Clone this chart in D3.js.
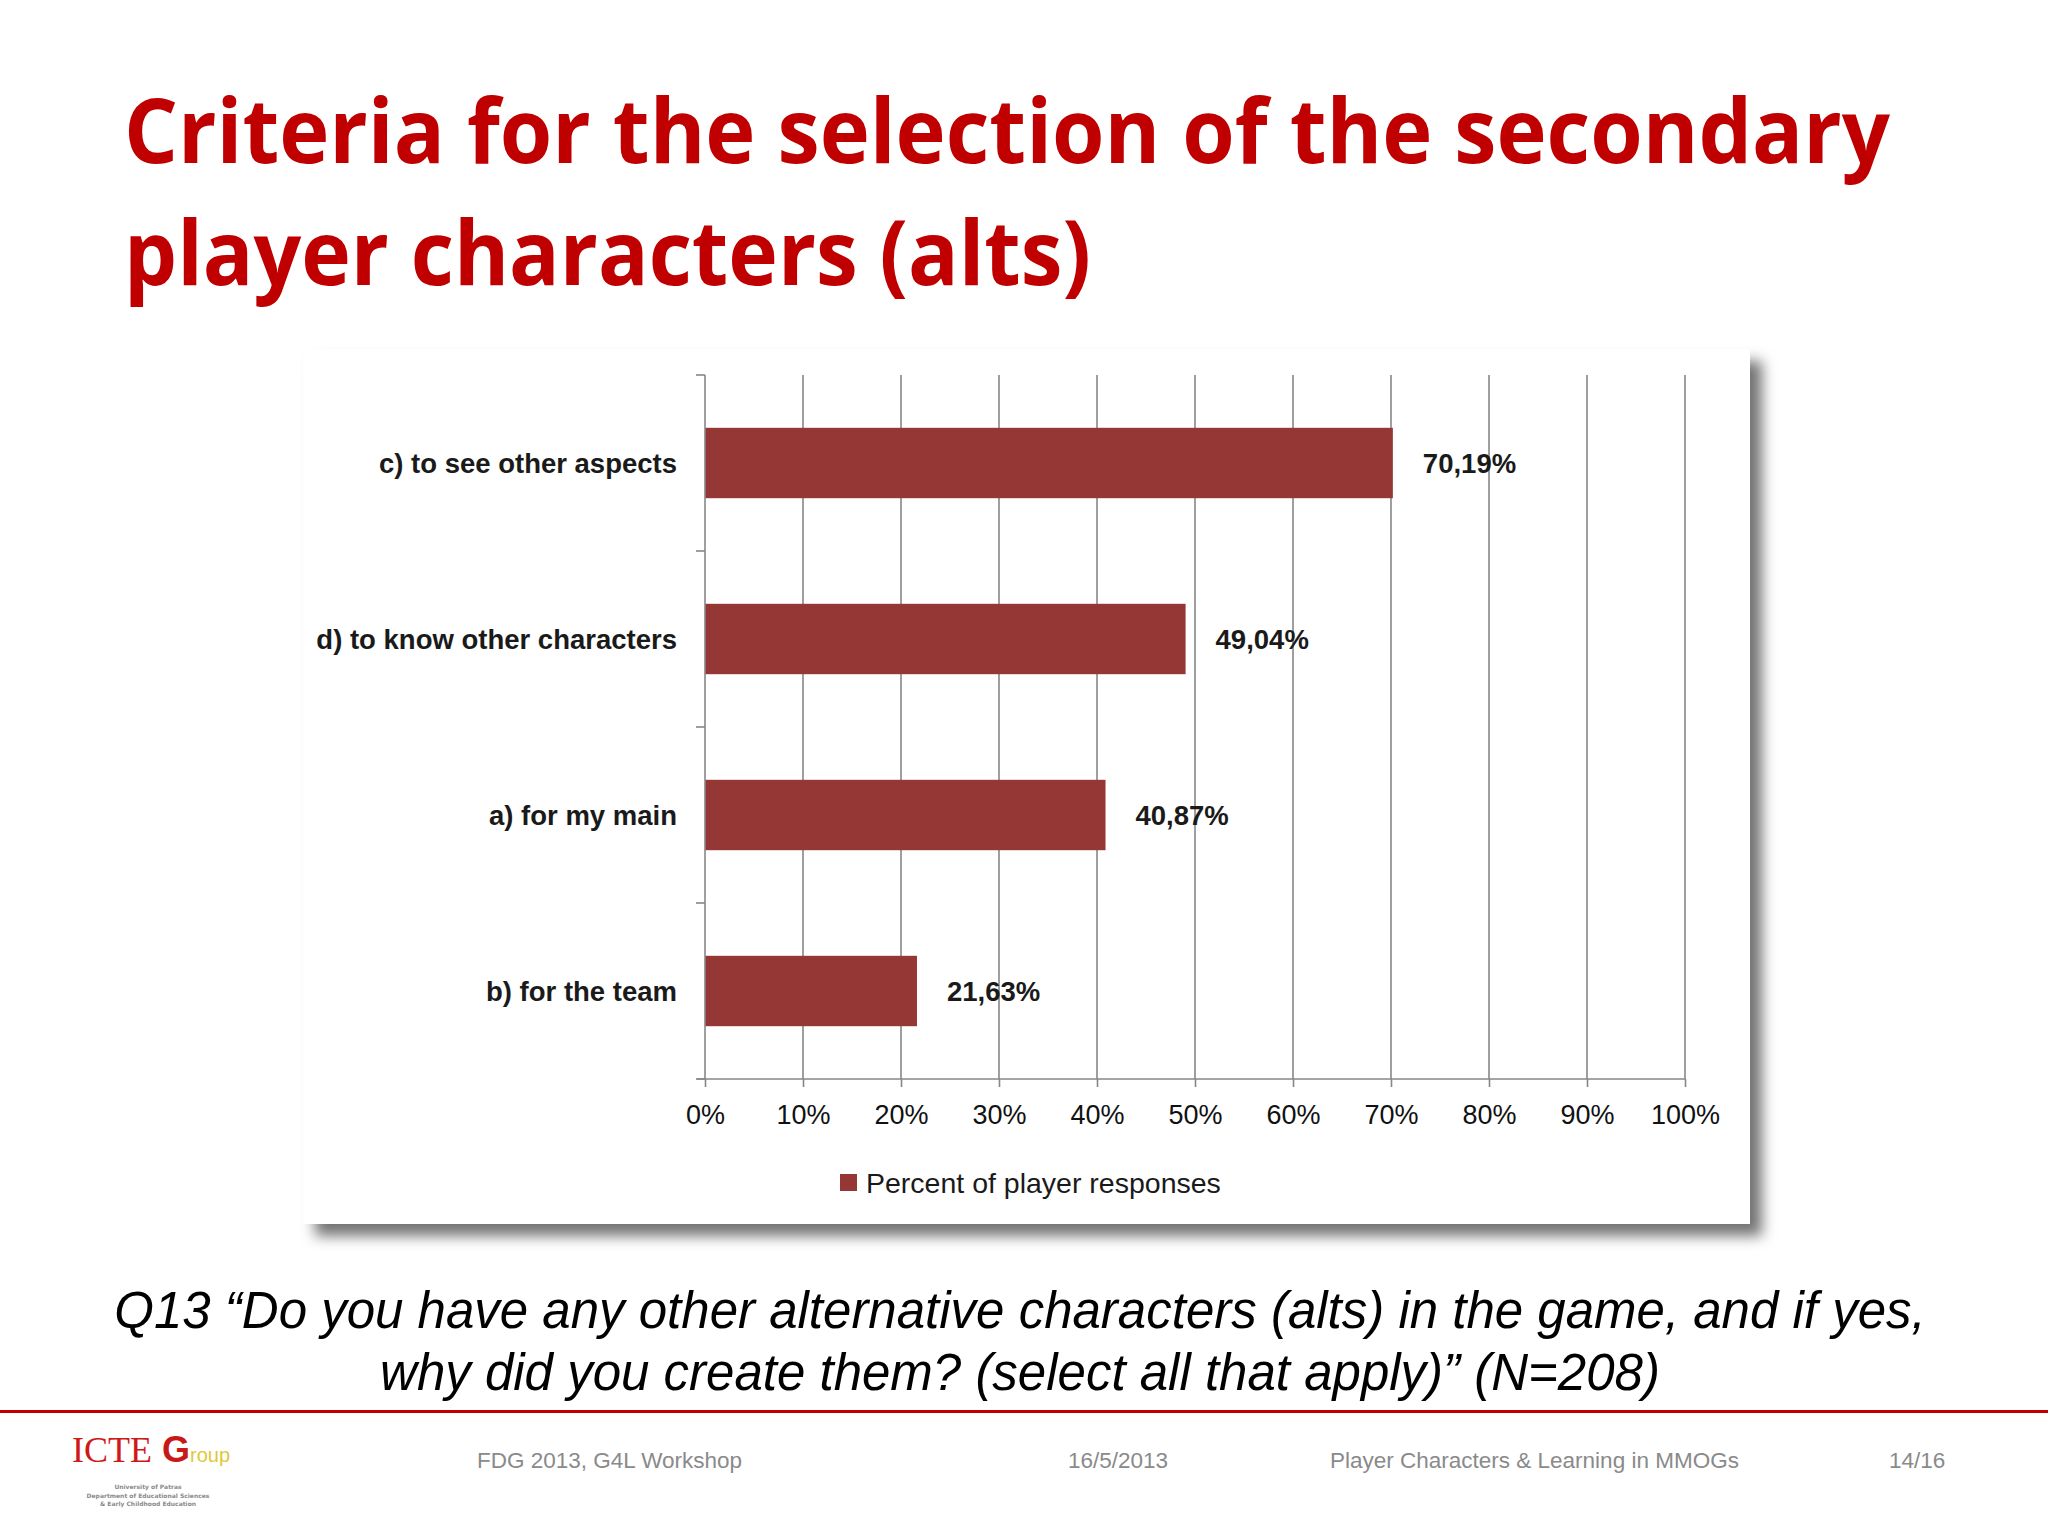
<!DOCTYPE html>
<html>
<head>
<meta charset="utf-8">
<script src="https://cdn.jsdelivr.net/npm/d3@7"></script>
<style>
html,body{margin:0;padding:0;background:#fff;}
svg{display:block;}
</style>
</head>
<body>
<script>
// ---- data ----
const categories = ["c) to see other aspects", "d) to know other characters", "a) for my main", "b) for the team"];
const values = [0.7019, 0.4904, 0.4087, 0.2163];
const valueLabels = ["70,19%", "49,04%", "40,87%", "21,63%"];
const xTicks = [0, 0.1, 0.2, 0.3, 0.4, 0.5, 0.6, 0.7, 0.8, 0.9, 1.0];
const seriesName = "Percent of player responses";
const titleLines = ["Criteria for the selection of the secondary", "player characters (alts)"];
const captionLines = ["Q13 \u201cDo you have any other alternative characters (alts) in the game, and if yes,", "why did you create them? (select all that apply)\u201d (N=208)"];
const footerTexts = ["FDG 2013, G4L Workshop", "16/5/2013", "Player Characters & Learning in MMOGs", "14/16"];
const logoLines = ["University of Patras", "Department of Educational Sciences", "& Early Childhood Education"];

const W = 2048, H = 1536;
const svg = d3.select("body").append("svg").attr("width", W).attr("height", H);
const defs = svg.append("defs");
const f = defs.append("filter").attr("id", "shadow").attr("x", "-5%").attr("y", "-5%").attr("width", "115%").attr("height", "120%");
f.append("feDropShadow").attr("dx", 12).attr("dy", 12).attr("stdDeviation", 7).attr("flood-color", "#000").attr("flood-opacity", 0.55);

svg.append("rect").attr("width", W).attr("height", H).attr("fill", "#fff");

// title
const titleFont = "Open Sans, Liberation Sans, sans-serif";
svg.append("text").attr("x", 124).attr("y", 163).attr("font-family", titleFont).attr("font-weight", 700)
  .attr("font-size", 90).attr("fill", "#C00000").attr("textLength", 1766).attr("lengthAdjust", "spacingAndGlyphs")
  .text(titleLines[0]);
svg.append("text").attr("x", 124).attr("y", 285).attr("font-family", titleFont).attr("font-weight", 700)
  .attr("font-size", 90).attr("fill", "#C00000").attr("textLength", 967).attr("lengthAdjust", "spacingAndGlyphs")
  .text(titleLines[1]);

// chart panel
svg.append("rect").attr("x", 303).attr("y", 349).attr("width", 1447).attr("height", 875)
  .attr("fill", "#fff").attr("filter", "url(#shadow)");

const chartFont = "Liberation Sans, sans-serif";
const x = d3.scaleLinear().domain([0, 1]).range([705, 1685]);
const y = d3.scaleBand().domain(categories).range([375, 1079]).paddingInner(0.6).paddingOuter(0.3);

const g = svg.append("g");
// gridlines
g.selectAll("line.grid").data(xTicks.slice(1)).join("line")
  .attr("x1", d => x(d)).attr("x2", d => x(d)).attr("y1", 375).attr("y2", 1079)
  .attr("stroke", "#878787").attr("stroke-width", 1.6);

// bars
g.selectAll("rect.bar").data(values).join("rect")
  .attr("x", x(0)).attr("y", (d, i) => y(categories[i]))
  .attr("width", d => x(d) - x(0)).attr("height", y.bandwidth())
  .attr("fill", "#953735");

// bottom axis
const xAxis = d3.axisBottom(x).tickValues(xTicks).tickFormat(d3.format(".0%")).tickSize(8).tickPadding(18);
const ax = g.append("g").attr("transform", "translate(0,1079)").call(xAxis);
ax.select(".domain").attr("stroke", "#878787").attr("stroke-width", 1.6).attr("d", "M697,0H" + x(1));
ax.selectAll(".tick line").attr("stroke", "#878787").attr("stroke-width", 1.6);
ax.selectAll(".tick text").attr("font-family", chartFont).attr("font-size", 27).attr("fill", "#111");

// left axis line & category tick marks (between categories)
g.append("line").attr("x1", x(0)).attr("x2", x(0)).attr("y1", 375).attr("y2", 1079)
  .attr("stroke", "#878787").attr("stroke-width", 1.6);
const step = y.step();
const catTicks = d3.range(categories.length + 1).map(i => 375 + i * step);
g.selectAll("line.ctick").data(catTicks).join("line")
  .attr("x1", x(0) - 9).attr("x2", x(0)).attr("y1", d => d).attr("y2", d => d)
  .attr("stroke", "#878787").attr("stroke-width", 1.6);

// category labels
g.selectAll("text.cat").data(categories).join("text")
  .attr("x", x(0) - 28).attr("y", d => y(d) + y.bandwidth() / 2)
  .attr("dy", "0.35em").attr("text-anchor", "end")
  .attr("font-family", chartFont).attr("font-size", 27.5).attr("font-weight", 700).attr("fill", "#1a1a1a")
  .text(d => d);

// value labels
g.selectAll("text.val").data(values).join("text")
  .attr("x", d => x(d) + 30).attr("y", (d, i) => y(categories[i]) + y.bandwidth() / 2)
  .attr("dy", "0.35em")
  .attr("font-family", chartFont).attr("font-size", 27.5).attr("font-weight", 700).attr("fill", "#1a1a1a")
  .text((d, i) => valueLabels[i]);

// legend
svg.append("rect").attr("x", 840).attr("y", 1174).attr("width", 17).attr("height", 17).attr("fill", "#953735");
svg.append("text").attr("x", 866).attr("y", 1183).attr("dy", "0.35em")
  .attr("font-family", chartFont).attr("font-size", 28.5).attr("fill", "#1a1a1a").text(seriesName);

// caption
const capFont = "Liberation Sans, Arial, sans-serif";
svg.append("text").attr("x", 1020).attr("y", 1328).attr("text-anchor", "middle").attr("font-family", capFont)
  .attr("font-style", "italic").attr("font-size", 51).attr("fill", "#000").text(captionLines[0]);
svg.append("text").attr("x", 1020).attr("y", 1390).attr("text-anchor", "middle").attr("font-family", capFont)
  .attr("font-style", "italic").attr("font-size", 51).attr("fill", "#000").text(captionLines[1]);

// red separator line
svg.append("rect").attr("x", 0).attr("y", 1410).attr("width", W).attr("height", 3).attr("fill", "#C00000");

// footer
const footX = [477, 1068, 1330, 1889];
footerTexts.forEach((t, i) => {
  svg.append("text").attr("x", footX[i]).attr("y", 1460).attr("dy", "0.35em")
    .attr("font-family", chartFont).attr("font-size", 22.5).attr("fill", "#8a8a8a").text(t);
});

// logo (approximation) - a single text element with coloured parts
const logoText = svg.append("text").attr("x", 72).attr("y", 1462);
logoText.append("tspan").attr("font-family", "Liberation Serif, serif").attr("font-size", 36).attr("fill", "#d01818").text("ICTE");
logoText.append("tspan").attr("font-family", "Liberation Sans, sans-serif").attr("font-weight", 700)
  .attr("font-size", 36).attr("fill", "#c81818").text(" G");
logoText.append("tspan").attr("font-family", "Liberation Sans Narrow, Liberation Sans, sans-serif")
  .attr("font-size", 20).attr("fill", "#e0c83a").text("roup");
logoLines.forEach((t, i) => {
  svg.append("text").attr("x", 148).attr("y", 1489 + i * 8.5).attr("text-anchor", "middle")
    .attr("font-family", "DejaVu Sans, sans-serif").attr("font-weight", 700).attr("font-size", 6).attr("fill", "#8a8a8a").text(t);
});
</script>
</body>
</html>
